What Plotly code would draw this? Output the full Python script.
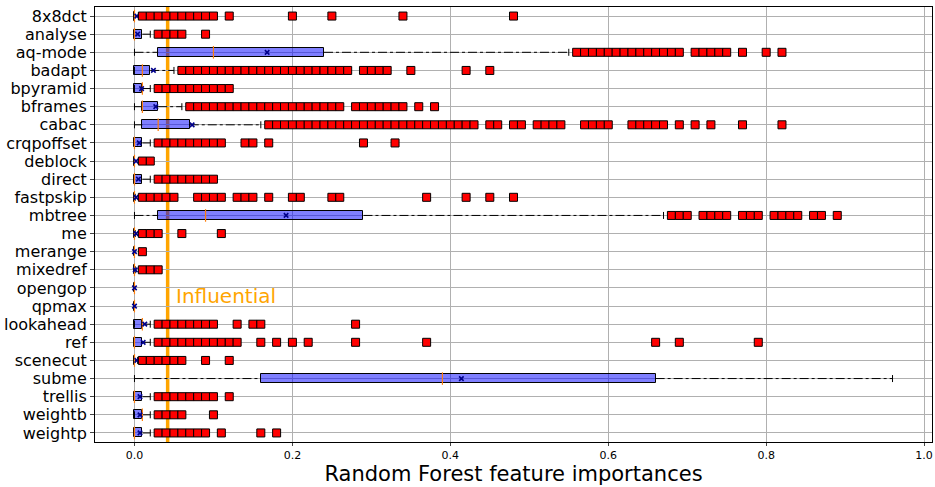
import plotly.graph_objects as go

# feature names, top to bottom
features = [
    "8x8dct", "analyse", "aq-mode", "badapt", "bpyramid", "bframes", "cabac",
    "crqpoffset", "deblock", "direct", "fastpskip", "mbtree", "me", "merange",
    "mixedref", "opengop", "qpmax", "lookahead", "ref", "scenecut", "subme",
    "trellis", "weightb", "weightp",
]

# box statistics per feature
q1 = [0, 0, 0.03, 0, 0, 0.01, 0.01, 0, 0, 0, 0, 0.03, 0, 0, 0, 0, 0, 0, 0, 0, 0.16, 0, 0, 0]
median = [0, 0, 0.10, 0.01, 0.01, 0.01, 0.03, 0, 0, 0, 0, 0.09, 0, 0, 0, 0, 0, 0.01, 0, 0, 0.39, 0, 0.01, 0]
q3 = [0.001, 0.01, 0.24, 0.02, 0.01, 0.03, 0.07, 0.01, 0, 0.01, 0, 0.29, 0, 0, 0, 0, 0, 0.01, 0.01, 0, 0.66, 0.01, 0.01, 0.01]
whisker_lo = [0] * 24
whisker_hi = [0.005, 0.02, 0.55, 0.05, 0.02, 0.06, 0.16, 0.02, 0, 0.02, 0.001, 0.67, 0.001, 0, 0.001, 0, 0, 0.02, 0.02, 0.004, 0.96, 0.02, 0.02, 0.02]
means = [0.003, 0.004, 0.168, 0.024, 0.009, 0.027, 0.073, 0.006, 0.002, 0.005, 0.002, 0.192, 0.002, 0.0, 0.001, 0.0, 0.0, 0.013, 0.011, 0.003, 0.414, 0.007, 0.007, 0.007]

# outliers per feature
outliers = [
    [0.01, 0.02, 0.03, 0.04, 0.05, 0.06, 0.07, 0.08, 0.09, 0.10, 0.12, 0.20, 0.25, 0.34, 0.48],
    [0.03, 0.04, 0.05, 0.06, 0.09],
    [0.56, 0.57, 0.58, 0.59, 0.60, 0.61, 0.62, 0.63, 0.64, 0.65, 0.66, 0.67, 0.68, 0.69,
     0.71, 0.72, 0.73, 0.74, 0.75, 0.77, 0.80, 0.82],
    [0.06, 0.07, 0.08, 0.09, 0.10, 0.11, 0.12, 0.13, 0.14, 0.15, 0.16, 0.17, 0.18, 0.19,
     0.20, 0.21, 0.22, 0.23, 0.24, 0.25, 0.26, 0.27, 0.29, 0.30, 0.31, 0.32, 0.35, 0.42, 0.45],
    [0.03, 0.04, 0.05, 0.06, 0.07, 0.08, 0.09, 0.10, 0.11, 0.12],
    [0.07, 0.08, 0.09, 0.10, 0.11, 0.12, 0.13, 0.14, 0.15, 0.16, 0.17, 0.18, 0.19, 0.20,
     0.21, 0.22, 0.23, 0.24, 0.25, 0.26, 0.28, 0.29, 0.30, 0.31, 0.32, 0.33, 0.34, 0.36, 0.38],
    [0.17, 0.18, 0.19, 0.20, 0.21, 0.22, 0.23, 0.24, 0.25, 0.26, 0.27, 0.28, 0.29, 0.30,
     0.31, 0.32, 0.33, 0.34, 0.35, 0.36, 0.37, 0.38, 0.39, 0.40, 0.41, 0.42, 0.43, 0.45,
     0.46, 0.48, 0.49, 0.51, 0.52, 0.53, 0.54, 0.57, 0.58, 0.59, 0.60, 0.63, 0.64, 0.65,
     0.66, 0.67, 0.69, 0.71, 0.73, 0.77, 0.82],
    [0.03, 0.04, 0.05, 0.06, 0.07, 0.08, 0.09, 0.10, 0.11, 0.14, 0.15, 0.17, 0.29, 0.33],
    [0.01, 0.02],
    [0.03, 0.04, 0.05, 0.06, 0.07, 0.08, 0.09, 0.10],
    [0.01, 0.02, 0.03, 0.04, 0.05, 0.08, 0.09, 0.10, 0.11, 0.13, 0.14, 0.15, 0.17, 0.20,
     0.21, 0.25, 0.26, 0.37, 0.42, 0.45, 0.48],
    [0.68, 0.69, 0.70, 0.72, 0.73, 0.74, 0.75, 0.77, 0.78, 0.79, 0.81, 0.82, 0.83, 0.84,
     0.86, 0.87, 0.89],
    [0.01, 0.02, 0.03, 0.06, 0.11],
    [0.01],
    [0.01, 0.02, 0.03],
    [],
    [],
    [0.03, 0.04, 0.05, 0.06, 0.07, 0.08, 0.09, 0.10, 0.13, 0.15, 0.16, 0.28],
    [0.03, 0.04, 0.05, 0.06, 0.07, 0.08, 0.09, 0.10, 0.11, 0.12, 0.13, 0.16, 0.18, 0.20,
     0.22, 0.28, 0.37, 0.66, 0.69, 0.79],
    [0.01, 0.02, 0.03, 0.04, 0.05, 0.06, 0.09, 0.12],
    [],
    [0.03, 0.04, 0.05, 0.06, 0.07, 0.08, 0.09, 0.10, 0.12],
    [0.03, 0.04, 0.05, 0.06, 0.10],
    [0.03, 0.04, 0.05, 0.06, 0.07, 0.08, 0.09, 0.11, 0.16, 0.18],
]

threshold = 0.042
threshold_label = "Influential"

fig = go.Figure()

# whiskers (dash-dot) from box edges out to the caps
wx, wy = [], []
for f, lo, a, b, hi in zip(features, whisker_lo, q1, q3, whisker_hi):
    wx += [lo, a, None, b, hi, None]
    wy += [f, f, None, f, f, None]
fig.add_trace(go.Scatter(
    x=wx, y=wy, mode="lines", line=dict(color="black", width=1, dash="dashdot"),
    hoverinfo="skip", showlegend=False,
))
fig.add_trace(go.Scatter(
    x=whisker_lo + whisker_hi, y=features + features, mode="markers",
    marker=dict(symbol="line-ns", size=5, line=dict(color="black", width=1)),
    hoverinfo="skip", showlegend=False,
))

# boxes
fig.add_trace(go.Bar(
    y=features, x=[b - a for a, b in zip(q1, q3)], base=q1, orientation="h",
    width=0.5, marker=dict(color="rgba(0,0,255,0.5)", line=dict(color="black", width=1)),
    showlegend=False,
))
fig.add_trace(go.Scatter(
    x=median, y=features, mode="markers",
    marker=dict(symbol="line-ns", size=9, line=dict(color="#ff7f0e", width=1.2)),
    showlegend=False, name="median",
))
fig.add_trace(go.Scatter(
    x=means, y=features, mode="markers",
    marker=dict(symbol="x-thin", size=4.5, line=dict(color="#00008b", width=1.6)),
    showlegend=False, name="mean",
))

# outliers
ox, oy = [], []
for f, vals in zip(features, outliers):
    ox += vals
    oy += [f] * len(vals)
fig.add_trace(go.Scatter(
    x=ox, y=oy, mode="markers",
    marker=dict(symbol="square", size=8, color="red", line=dict(color="black", width=1)),
    showlegend=False, name="outlier",
))

fig.add_shape(
    type="line", xref="x", yref="paper", x0=threshold, x1=threshold, y0=0, y1=1,
    line=dict(color="orange", width=3.5), layer="between",
)
fig.add_annotation(
    x=threshold + 0.008, y="qpmax", yshift=10, text=threshold_label, showarrow=False,
    xanchor="left", font=dict(size=20, color="orange"),
)

fig.update_layout(
    width=935, height=487,
    margin=dict(l=95, r=3, t=7, b=45),
    plot_bgcolor="white", paper_bgcolor="white",
    font=dict(family="DejaVu Sans", color="black"),
    bargap=0,
)
fig.update_xaxes(
    range=[-0.05, 1.01], tickvals=[0, 0.2, 0.4, 0.6, 0.8, 1.0], tickformat=".1f",
    showgrid=True, gridcolor="#b0b0b0", gridwidth=1, zeroline=False,
    showline=True, linecolor="black", mirror=True, ticks="outside", ticklen=3,
    tickfont=dict(size=11), automargin=False,
    title=dict(text="Random Forest feature importances", font=dict(size=21), standoff=0),
)
fig.update_yaxes(
    categoryorder="array", categoryarray=features, range=[len(features) - 0.5, -0.5],
    tickmode="array", tickvals=features, ticktext=features,
    showgrid=True, gridcolor="#b0b0b0", gridwidth=1, zeroline=False,
    showline=True, linecolor="black", mirror=True, ticks="outside", ticklen=4,
    tickfont=dict(size=16), automargin=False,
)

# drop the default page margin so the figure sits in the window corner
fig.write_html(
    "out.html",
    config={"displayModeBar": False},
    post_script="document.body.style.margin = '0';",
)
